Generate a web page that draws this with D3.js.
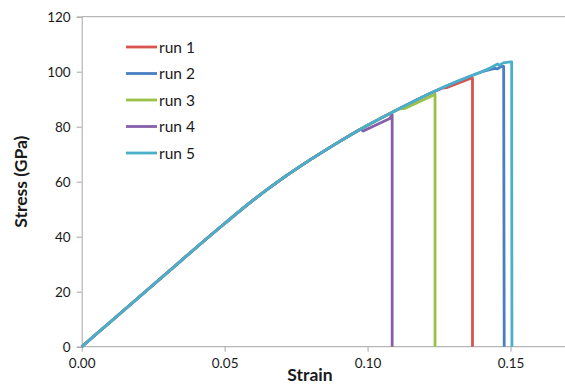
<!DOCTYPE html>
<html>
<head>
<meta charset="utf-8">
<script src="https://cdn.jsdelivr.net/npm/d3@7"></script>
<style>
  html, body { margin: 0; padding: 0; background: #fff; }
  svg { display: block; }
</style>
</head>
<body>
<svg id="chart" width="565" height="385"></svg>
<script>
// ---- data ----
const xTicks = [0.00, 0.05, 0.10, 0.15];
const yTicks = [0, 20, 40, 60, 80, 100, 120];

// common loading curve shared by all runs (strain, stress GPa)
const commonStrain = [0, 0.01, 0.02, 0.03, 0.04, 0.05, 0.06, 0.07, 0.08, 0.09, 0.10, 0.11, 0.12, 0.13, 0.14];
const commonStress = [0, 9.0, 18.0, 27.0, 36.0, 44.8, 53.3, 61.0, 68.0, 74.5, 80.5, 86.0, 91.2, 95.9, 100.0];

const runNames  = ["run 1", "run 2", "run 3", "run 4", "run 5"];
const runColors = ["#d9534f", "#4a7ec3", "#9bc146", "#8660ab", "#4aafc9"];

// end segment of each run (from where it leaves the common curve), ending with the failure drop
const run1Strain = [0.1260, 0.1276, 0.1355, 0.1365, 0.1367, 0.1367];
const run1Stress = [94.0, 94.2, 97.4, 97.8, 97.6, 0];
const run2Strain = [0.1400, 0.1410, 0.1445, 0.1455, 0.1465, 0.1476, 0.1478];
const run2Stress = [100.0, 100.3, 101.2, 101.0, 101.8, 101.9, 0];
const run3Strain = [0.1110, 0.1130, 0.1234, 0.1236, 0.1236];
const run3Stress = [86.5, 86.6, 91.6, 91.9, 0];
const run4Strain = [0.0975, 0.0985, 0.1078, 0.1086, 0.1086];
const run4Stress = [79.1, 78.4, 83.0, 84.3, 0];
const run5Strain = [0.1400, 0.1430, 0.1455, 0.1460, 0.1475, 0.1500, 0.1504, 0.1505];
const run5Stress = [100.0, 101.4, 102.8, 102.3, 103.2, 103.6, 103.6, 0];

const tailsStrain = [run1Strain, run2Strain, run3Strain, run4Strain, run5Strain];
const tailsStress = [run1Stress, run2Stress, run3Stress, run4Stress, run5Stress];

// ---- build series ----
const runs = runNames.map((name, i) => {
  const ts = tailsStrain[i], tv = tailsStress[i];
  const head = [];
  commonStrain.forEach((s, k) => { if (s < ts[0] - 0.001) head.push([s, commonStress[k]]); });
  const tail = ts.map((s, k) => [s, tv[k]]);
  return { name, color: runColors[i], head, tail };
});

// ---- layout ----
const svg = d3.select("#chart");
const plotLeft = 81.7, plotTop = 16.7, plotBottom = 346.7;
const x = d3.scaleLinear().domain([0, 0.17]).range([plotLeft, plotLeft + 0.17 * 2858.7]);
const y = d3.scaleLinear().domain([0, 120]).range([plotBottom, plotTop]);
const axisColor = "#a6a6a6";
const font = "Lato, 'Open Sans', sans-serif";

// top border line at 120
svg.append("line")
  .attr("x1", plotLeft).attr("x2", 565)
  .attr("y1", y(120)).attr("y2", y(120))
  .attr("stroke", axisColor).attr("stroke-width", 1);

// y axis
const yAxis = svg.append("g")
  .attr("transform", `translate(${plotLeft},0)`)
  .call(d3.axisLeft(y).tickValues(yTicks).tickSize(5).tickPadding(6).tickFormat(d3.format("d")));
yAxis.select(".domain").attr("stroke", axisColor);
yAxis.selectAll(".tick line").attr("stroke", axisColor);
yAxis.selectAll("text").attr("font-family", font).attr("font-size", 13.5).attr("fill", "#1a1a1a");

// x axis
const xAxis = svg.append("g")
  .attr("transform", `translate(0,${plotBottom})`)
  .call(d3.axisBottom(x).tickValues(xTicks).tickSize(5).tickPadding(7).tickFormat(d3.format(".2f")));
xAxis.select(".domain").attr("stroke", axisColor).attr("d", `M${plotLeft},0H565`);
xAxis.selectAll(".tick line").attr("stroke", axisColor);
xAxis.selectAll("text").attr("font-family", font).attr("font-size", 13.5).attr("fill", "#1a1a1a");

// axis titles
svg.append("text")
  .attr("transform", `translate(27,${(plotTop + plotBottom) / 2}) rotate(-90)`)
  .attr("text-anchor", "middle")
  .attr("font-family", font).attr("font-weight", "bold").attr("font-size", 17.5)
  .attr("fill", "#1a1a1a")
  .text("Stress (GPa)");
svg.append("text")
  .attr("x", 310).attr("y", 381)
  .attr("text-anchor", "middle")
  .attr("font-family", font).attr("font-weight", "bold").attr("font-size", 17.5)
  .attr("fill", "#1a1a1a")
  .text("Strain");

// lines: smooth loading curve + straight tail and failure drop
const smooth = d3.line().x(d => x(d[0])).y(d => y(d[1])).curve(d3.curveCatmullRom.alpha(0.5));
const straight = d3.line().x(d => x(d[0])).y(d => y(d[1]));
svg.append("g").selectAll("path").data(runs).join("path")
  .attr("d", d => smooth(d.head.concat([d.tail[0]])) + straight(d.tail).replace(/^M/, "L"))
  .attr("fill", "none")
  .attr("stroke", d => d.color)
  .attr("stroke-width", 2.8)
  .attr("stroke-linejoin", "round");

// legend
const lg = svg.append("g").selectAll("g").data(runs).join("g")
  .attr("transform", (d, i) => `translate(126,${47 + i * 26.5})`);
lg.append("line").attr("x1", 0).attr("x2", 31).attr("y1", 0).attr("y2", 0)
  .attr("stroke", d => d.color).attr("stroke-width", 2.8);
lg.append("text").attr("x", 33).attr("y", 5.5)
  .attr("font-family", font).attr("font-size", 15.5).attr("fill", "#1a1a1a")
  .text(d => d.name);
</script>
</body>
</html>
